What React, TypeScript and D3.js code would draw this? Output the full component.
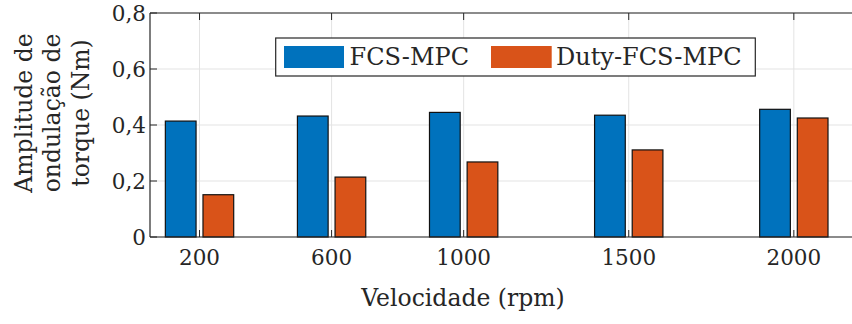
import React from "react";
import * as d3 from "d3";

const speeds = [200, 600, 1000, 1500, 2000];
const fcsMpc = [0.414, 0.432, 0.445, 0.435, 0.456];
const dutyFcsMpc = [0.151, 0.214, 0.268, 0.311, 0.425];
const seriesNames = ["FCS-MPC", "Duty-FCS-MPC"];
const seriesColors = ["#0072BD", "#D95319"];
const yTicks = [0, 0.2, 0.4, 0.6, 0.8];
const yTickLabels = ["0", "0,2", "0,4", "0,6", "0,8"];
const yLabelLines = ["Amplitude de", "ondulação de", "torque (Nm)"];
const xLabel = "Velocidade (rpm)";

const W = 852;
const H = 324;
const FONT = '"DejaVu Serif", serif';
const TXT = "#262626";

export default function App() {
  const x = d3.scaleLinear().domain([50, 2200]).range([150, 150 + 2150 * 0.33017]);
  const y = d3.scaleLinear().domain([0, 0.8]).range([237, 13]);
  const barW = 93;
  const off = 57;
  const series = [fcsMpc, dutyFcsMpc];
  const left = 150;
  const right = W + 10;
  const top = y(0.8);
  const bottom = y(0);
  const tickLen = 7;
  const tickStyle: React.CSSProperties = { fontFamily: FONT, fontSize: "21.5px" };
  const labStyle: React.CSSProperties = { fontFamily: FONT, fontSize: "23.5px" };
  const legStyle: React.CSSProperties = { fontFamily: FONT, fontSize: "24px" };

  return (
    <svg
      width={W}
      height={H}
      style={{ position: "absolute", left: 0, top: 0, background: "#fff", fontFamily: FONT }}
    >
      <rect x={0} y={0} width={W} height={H} fill="#fff" />
      {speeds.map((s) => (
        <line key={"gx" + s} x1={x(s)} x2={x(s)} y1={top} y2={bottom} stroke="#e3e3e3" strokeWidth={1} />
      ))}
      {yTicks.map((t) => (
        <line key={"gy" + t} x1={left} x2={right} y1={y(t)} y2={y(t)} stroke="#e3e3e3" strokeWidth={1} />
      ))}
      {speeds.map((s) => (
        <g key={"tx" + s}>
          <line x1={x(s)} x2={x(s)} y1={bottom} y2={bottom - tickLen} stroke={TXT} strokeWidth={1} />
          <line x1={x(s)} x2={x(s)} y1={top} y2={top + tickLen} stroke={TXT} strokeWidth={1} />
        </g>
      ))}
      {yTicks.map((t) => (
        <line key={"ty" + t} x1={left} x2={left + tickLen} y1={y(t)} y2={y(t)} stroke={TXT} strokeWidth={1} />
      ))}
      {series.map((vals, si) =>
        vals.map((v, i) => {
          const cx = speeds[i] + (si === 0 ? -off : off);
          const x0 = x(cx - barW / 2);
          const x1 = x(cx + barW / 2);
          return (
            <rect
              key={si + "-" + i}
              x={x0}
              y={y(v)}
              width={x1 - x0}
              height={y(0) - y(v)}
              fill={seriesColors[si]}
              stroke="#111"
              strokeWidth={1.2}
            />
          );
        })
      )}
      <line x1={left} x2={right} y1={bottom} y2={bottom} stroke={TXT} strokeWidth={1.2} />
      <line x1={left} x2={right} y1={top} y2={top} stroke={TXT} strokeWidth={1.2} />
      <line x1={left} x2={left} y1={top} y2={bottom} stroke={TXT} strokeWidth={1.2} />
      {speeds.map((s) => (
        <text key={"lx" + s} x={x(s)} y={257.5} textAnchor="middle" dominantBaseline="central" style={tickStyle} fill={TXT}>
          {s}
        </text>
      ))}
      {yTicks.map((t, i) => (
        <text key={"ly" + t} x={146} y={y(t)} textAnchor="end" dominantBaseline="central" style={tickStyle} fill={TXT}>
          {yTickLabels[i]}
        </text>
      ))}
      <text x={463} y={298} textAnchor="middle" dominantBaseline="central" style={labStyle} fill={TXT}>
        {xLabel}
      </text>
      <g transform="translate(52,113) rotate(-90)">
        {yLabelLines.map((l, i) => (
          <text key={l} x={0} y={(i - 1) * 28.5} textAnchor="middle" dominantBaseline="central" style={labStyle} fill={TXT}>
            {l}
          </text>
        ))}
      </g>
      <rect x={275.7} y={38} width={479.6} height={38} fill="#fff" stroke={TXT} strokeWidth={1.2} />
      <rect x={284} y={46} width={60} height={22} fill={seriesColors[0]} />
      <text x={349.5} y={57} dominantBaseline="central" style={legStyle} fill={TXT}>
        {seriesNames[0]}
      </text>
      <rect x={491} y={46} width={60.7} height={22} fill={seriesColors[1]} />
      <text x={556} y={57} dominantBaseline="central" style={legStyle} fill={TXT}>
        {seriesNames[1]}
      </text>
    </svg>
  );
}
